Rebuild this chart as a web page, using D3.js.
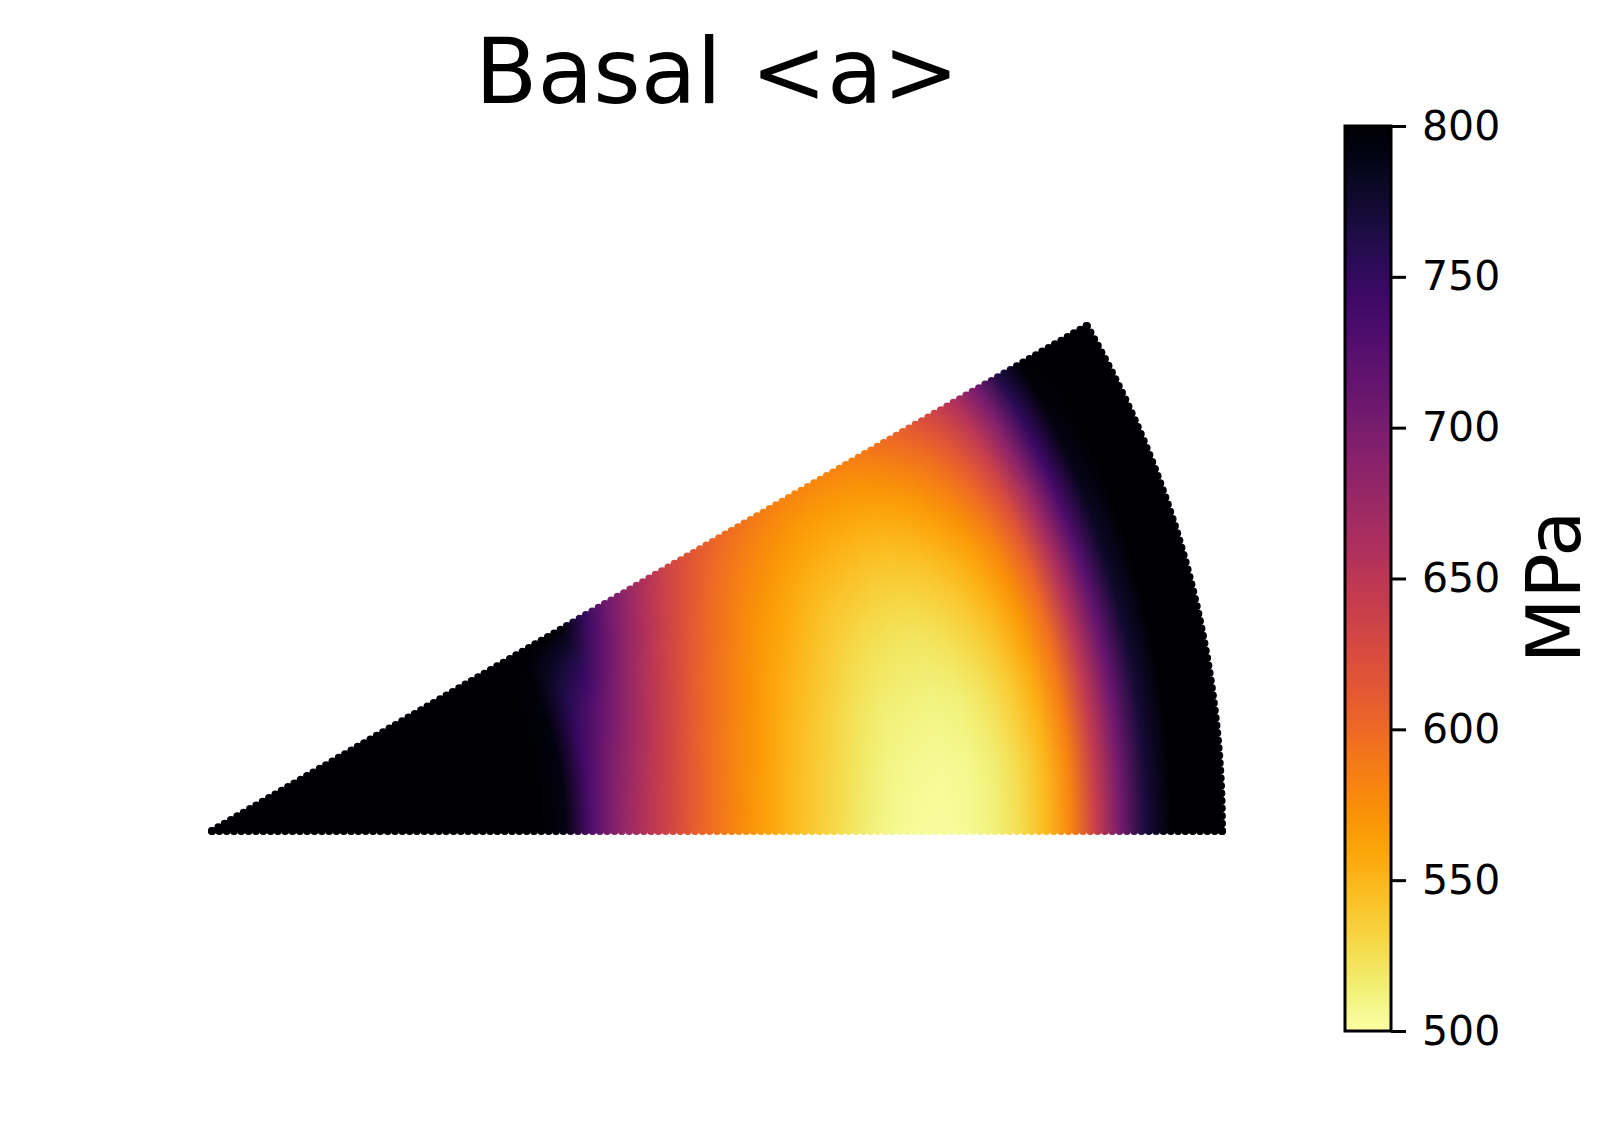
<!DOCTYPE html>
<html>
<head>
<meta charset="utf-8">
<script src="https://cdn.jsdelivr.net/npm/d3@7"></script>
<style>
  html, body { margin: 0; padding: 0; background: #fff; }
  text { font-family: 'DejaVu Sans', sans-serif; fill: #000; }
</style>
</head>
<body>
<svg id="chart" width="1619" height="1133"></svg>
<script>
const title = 'Basal <a>'
const unitLabel = 'MPa'
const colorDomain = [500, 800]
const colorTicks = [500, 550, 600, 650, 700, 750, 800]

// radial position of each sample, as a fraction of the outer radius
const radialPos = [
    0, 0.025, 0.05, 0.075, 0.1, 0.125, 0.15, 0.175, 0.2, 0.225,
    0.25, 0.275, 0.3, 0.325, 0.35, 0.375, 0.4, 0.425, 0.45, 0.475,
    0.5, 0.525, 0.55, 0.575, 0.6, 0.625, 0.65, 0.675, 0.7, 0.725,
    0.75, 0.775, 0.8, 0.825, 0.85, 0.875, 0.9, 0.925, 0.95, 0.975, 1
]
// azimuth of each row (degrees, 0 = bottom edge, 30 = top edge)
const rowAngles = [0, 5, 10, 15, 17.5, 20, 22.5, 25, 27.5, 30]

// stress (MPa) read along each row, values >= 800 shown as 800
const row00 = [800, 800, 800, 800, 800, 800, 800, 800, 800, 800, 800, 800, 800, 800, 790, 730, 688, 660, 635, 612, 592, 577, 562, 548, 536, 525, 515, 508, 504, 503, 506, 513, 526, 546, 580, 640, 705, 770, 800, 800, 800]
const row05 = [800, 800, 800, 800, 800, 800, 800, 800, 800, 800, 800, 800, 800, 800, 790, 732, 691, 662, 637, 614, 594, 578, 563, 549, 537, 527, 517, 510, 506, 505, 508, 515, 528, 548, 582, 642, 707, 771, 800, 800, 800]
const row10 = [800, 800, 800, 800, 800, 800, 800, 800, 800, 800, 800, 800, 800, 800, 791, 737, 699, 669, 642, 619, 598, 582, 567, 553, 542, 531, 522, 515, 512, 511, 514, 522, 535, 555, 588, 647, 711, 773, 800, 800, 800]
const row15 = [800, 800, 800, 800, 800, 800, 800, 800, 800, 800, 800, 800, 800, 800, 792, 746, 713, 681, 652, 627, 606, 589, 574, 560, 549, 539, 530, 524, 521, 521, 525, 533, 546, 566, 598, 655, 719, 777, 800, 800, 800]
const row17 = [800, 800, 800, 800, 800, 800, 800, 800, 800, 800, 800, 800, 800, 800, 793, 752, 721, 688, 658, 633, 611, 593, 578, 565, 554, 544, 536, 530, 527, 528, 532, 540, 553, 573, 605, 660, 724, 779, 800, 800, 800]
const row20 = [800, 800, 800, 800, 800, 800, 800, 800, 800, 800, 800, 800, 800, 800, 794, 759, 732, 697, 665, 639, 617, 599, 584, 570, 560, 550, 542, 538, 535, 536, 540, 549, 562, 582, 613, 667, 730, 782, 800, 800, 800]
const row22 = [800, 800, 800, 800, 800, 800, 800, 800, 800, 800, 800, 800, 800, 800, 795, 767, 745, 708, 674, 647, 624, 605, 590, 577, 566, 557, 550, 546, 544, 545, 550, 559, 572, 592, 622, 674, 737, 786, 800, 800, 800]
const row25 = [800, 800, 800, 800, 800, 800, 800, 800, 800, 800, 800, 800, 800, 800, 797, 777, 760, 720, 684, 656, 632, 613, 597, 584, 574, 566, 559, 556, 554, 556, 562, 571, 584, 604, 634, 684, 745, 790, 800, 800, 800]
const row27 = [800, 800, 800, 800, 800, 800, 800, 800, 800, 800, 800, 800, 800, 800, 798, 787, 776, 734, 695, 666, 641, 621, 605, 592, 583, 575, 569, 566, 566, 568, 574, 584, 597, 617, 646, 693, 754, 795, 800, 800, 800]
const row30 = [800, 800, 800, 800, 800, 800, 800, 800, 800, 800, 800, 800, 800, 800, 800, 800, 795, 750, 708, 678, 652, 630, 614, 602, 593, 586, 581, 579, 579, 582, 589, 599, 613, 632, 660, 705, 765, 800, 800, 800, 800]
const rows = [row00, row05, row10, row15, row17, row20, row22, row25, row27, row30]

// layout
const origin = [212, 831]
const outerR = 1010
const dotR = 4
const sliceDeg = 0.25 // width of the blending slices between two rows
const bar = { x: 1345, w: 46, top: 126, bottom: 1031 }

const svg = d3.select('#chart')
const defs = svg.append('defs')

const color = d3.scaleSequential(d3.interpolateInferno).domain([colorDomain[1], colorDomain[0]]).clamp(true)
const rScale = d3.scaleLinear().domain([0, 1]).range([0, outerR])
const rad = (deg) => (deg * Math.PI) / 180
const lastAngle = rowAngles[rowAngles.length - 1]

// one radial gradient per row, stops at the sampled radii
rows.forEach((vals, i) => {
    const g = defs
        .append('radialGradient')
        .attr('id', `row${i}`)
        .attr('gradientUnits', 'userSpaceOnUse')
        .attr('cx', 0)
        .attr('cy', 0)
        .attr('fx', 0)
        .attr('fy', 0)
        .attr('r', outerR)
    g.selectAll('stop')
        .data(vals)
        .enter()
        .append('stop')
        .attr('offset', (d, k) => radialPos[k])
        .attr('stop-color', (d) => color(d))
})

const sector = svg.append('g').attr('transform', `translate(${origin[0]},${origin[1]})`)
const arc = d3.arc()
const wedge = (lo, hi) =>
    arc({ innerRadius: 0, outerRadius: outerR, startAngle: rad(90 - hi), endAngle: rad(90 - lo) })

// base layer: first row over the whole sector
sector.append('path').attr('d', wedge(0, lastAngle)).attr('fill', 'url(#row0)')

// each next row fades in between the previous row angle and its own, then covers the rest
const layers = []
rowAngles.forEach((a, i) => {
    if (i === 0) return
    const prev = rowAngles[i - 1]
    const n = Math.round((a - prev) / sliceDeg)
    d3.range(n).forEach((k) => {
        layers.push({ row: i, lo: prev + k * sliceDeg, hi: prev + (k + 1) * sliceDeg, op: (k + 0.5) / n })
    })
    if (a < lastAngle) layers.push({ row: i, lo: a, hi: lastAngle, op: 1 })
})
sector
    .selectAll('path.layer')
    .data(layers)
    .enter()
    .append('path')
    .attr('class', 'layer')
    .attr('d', (d) => wedge(d.lo, d.hi))
    .attr('fill', (d) => `url(#row${d.row})`)
    .attr('fill-opacity', (d) => d.op)
    .attr('shape-rendering', 'crispEdges')

// scatter markers along the outline
const rowOf = (deg) => d3.leastIndex(rowAngles, (a) => Math.abs(a - deg))
const nRadial = 138
const nArc = 70
const edgeDots = []
d3.range(nRadial + 1).forEach((k) => {
    const r = rScale(k / nRadial)
    edgeDots.push({ r, a: 0, row: 0 })
    edgeDots.push({ r, a: lastAngle, row: rows.length - 1 })
})
d3.range(nArc + 1).forEach((j) => {
    const a = (lastAngle * j) / nArc
    edgeDots.push({ r: outerR, a, row: rowOf(a) })
})
sector
    .selectAll('circle.edge')
    .data(edgeDots)
    .enter()
    .append('circle')
    .attr('class', 'edge')
    .attr('cx', (d) => d.r * Math.cos(rad(d.a)))
    .attr('cy', (d) => -d.r * Math.sin(rad(d.a)))
    .attr('r', dotR)
    .attr('fill', (d) => `url(#row${d.row})`)

// title
svg.append('text')
    .attr('x', 717)
    .attr('y', 103)
    .attr('text-anchor', 'middle')
    .style('font-size', '91px')
    .text(title)

// colour bar
const barScale = d3.scaleLinear().domain(colorDomain).range([bar.bottom, bar.top])
const lg = defs
    .append('linearGradient')
    .attr('id', 'cbar')
    .attr('x1', 0)
    .attr('y1', 1)
    .attr('x2', 0)
    .attr('y2', 0)
lg.selectAll('stop')
    .data(d3.range(0, 1.0001, 0.02))
    .enter()
    .append('stop')
    .attr('offset', (t) => t)
    .attr('stop-color', (t) => color(colorDomain[0] + t * (colorDomain[1] - colorDomain[0])))

svg.append('rect')
    .attr('x', bar.x)
    .attr('y', bar.top)
    .attr('width', bar.w)
    .attr('height', bar.bottom - bar.top)
    .attr('fill', 'url(#cbar)')
    .attr('stroke', '#000')
    .attr('stroke-width', 3)

const axis = svg
    .append('g')
    .attr('transform', `translate(${bar.x + bar.w},0)`)
    .call(d3.axisRight(barScale).tickValues(colorTicks).tickSize(15).tickPadding(16).tickFormat(d3.format('d')))
axis.select('.domain').remove()
axis.selectAll('.tick line').attr('stroke', '#000').attr('stroke-width', 3)
axis.selectAll('.tick text')
    .style('font-family', "'DejaVu Sans', sans-serif")
    .style('font-size', '41px')
    .attr('fill', '#000')

svg.append('text')
    .attr('transform', 'translate(1580,587) rotate(-90)')
    .attr('text-anchor', 'middle')
    .style('font-size', '75px')
    .text(unitLabel)
</script>
</body>
</html>
